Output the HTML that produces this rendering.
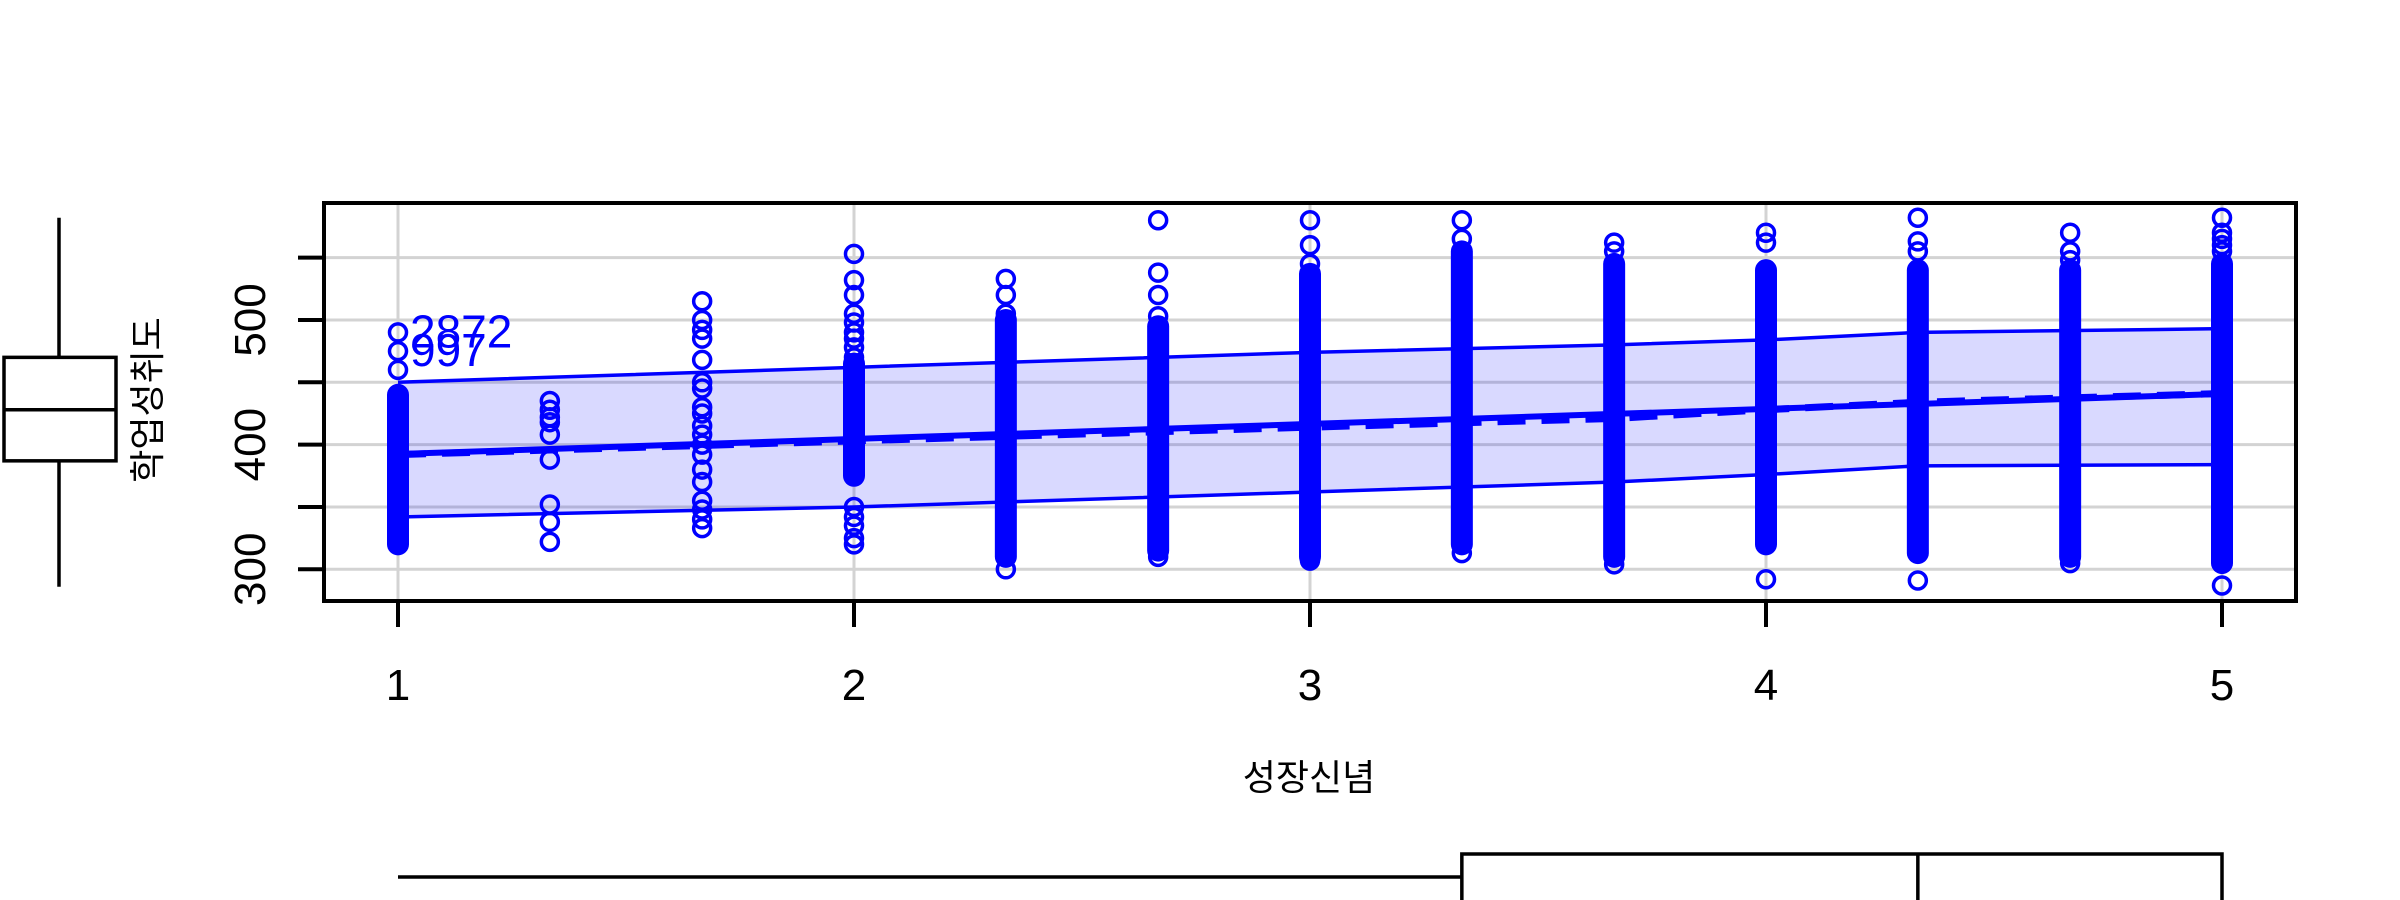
<!DOCTYPE html>
<html><head><meta charset="utf-8"><style>
html,body{margin:0;padding:0;background:#fff;}
svg{display:block;}
text{font-family:"Liberation Sans","Noto Sans CJK KR",sans-serif;}
</style></head><body>
<svg id="chart" width="2400" height="900" viewBox="0 0 2400 900" xmlns="http://www.w3.org/2000/svg"></svg>
<script>
const xTicks=[1,2,3,4,5];
const yTicks=[300,350,400,450,500,550];
const yTickLabels=[300,400,500];
const colX=[1,1.333,1.667,2,2.333,2.667,3,3.333,3.667,4,4.333,4.667,5];
const denseLo=[320,null,null,375,310,315,310,320,310,320,313,310,305];
const denseHi=[440,null,null,465,500,495,537,555,545,540,540,540,545];
const outliers=[
 [490,475,460],
 [435,428,422,418,408,388,352,338,322],
 [515,500,492,485,468,450,445,430,425,415,408,400,392,380,370,355,348,340,333],
 [553,532,520,505,498,490,485,478,470,350,342,335,325,320],
 [533,520,505,300],
 [580,538,520,503,310],
 [580,560,545,307],
 [580,565,313],
 [562,555,304],
 [570,562,292],
 [582,563,555,291],
 [570,555,548,305],
 [582,570,565,560,555,287]
];
const bandX=[1,2,3,3.667,4,4.333,5];
const bandUpper=[450,462,474,480,484,490,493];
const bandLower=[342,350,362,370,376,383,384];
const fitX=[1,5];
const fitY=[392.5,440.7];
const smoothX=[1,2,3,3.667,4,4.333,5];
const smoothY=[392,403,414,421,428,434,441];
const labelPts=[{x:1,y:490,t:"2872"},{x:1,y:475,t:"997"}];
const yBox={min:286,q1:387,med:428,q3:470,max:582};
const xBox={min:1,q1:3.333,med:4.333,q3:5,max:5};

const X=v=>398+(v-1)*456;
const Y=v=>569.3-(v-300)*1.2467;
const svg=document.getElementById('chart');
const NS='http://www.w3.org/2000/svg';
function mk(tag,attrs,parent){const e=document.createElementNS(NS,tag);for(const k in attrs)e.setAttribute(k,attrs[k]);(parent||svg).appendChild(e);return e;}

xTicks.forEach(t=>{const e=mk('line',{x1:X(t),x2:X(t),y1:203,y2:601,stroke:'#d3d3d3','stroke-width':3});

});
yTicks.forEach(t=>{const e=mk('line',{x1:324,x2:2296,y1:Y(t),y2:Y(t),stroke:'#d3d3d3','stroke-width':3});

});

let d='M'+bandX.map((x,i)=>X(x)+','+Y(bandUpper[i])).join(' L');
for(let i=bandX.length-1;i>=0;i--)d+=' L'+X(bandX[i])+','+Y(bandLower[i]);
const band=mk('path',{d:d+'Z',fill:'rgba(0,0,255,0.15)',stroke:'none'});


const up=mk('polyline',{points:bandX.map((x,i)=>X(x)+','+Y(bandUpper[i])).join(' '),fill:'none',stroke:'#0000ff','stroke-width':3.5});


const lo=mk('polyline',{points:bandX.map((x,i)=>X(x)+','+Y(bandLower[i])).join(' '),fill:'none',stroke:'#0000ff','stroke-width':3.5});



colX.forEach((cx,i)=>{
 if(denseLo[i]!==null){const r=mk('rect',{x:X(cx)-11,y:Y(denseHi[i])-11,width:22,height:Y(denseLo[i])-Y(denseHi[i])+22,rx:11,fill:'#0000ff'});
 
 }
 outliers[i].forEach(v=>{const c=mk('circle',{cx:X(cx),cy:Y(v),r:8.5,fill:'none',stroke:'#0000ff','stroke-width':3.5});
 
 });
});

const fit=mk('line',{x1:X(fitX[0]),y1:Y(fitY[0]),x2:X(fitX[1]),y2:Y(fitY[1]),stroke:'#0000ff','stroke-width':6});


const sm=mk('polyline',{points:smoothX.map((x,i)=>X(x)+','+Y(smoothY[i])).join(' '),fill:'none',stroke:'#0000ff','stroke-width':7,'stroke-dasharray':'28,16'});



labelPts.forEach(p=>{const t=mk('text',{x:X(p.x)+12,y:Y(p.y)+15,fill:'#0000ff','font-size':46});t.textContent=p.t;

});

const fr=mk('rect',{x:324,y:203,width:1972,height:398,fill:'none',stroke:'#000','stroke-width':4});



xTicks.forEach(t=>{mk('line',{x1:X(t),x2:X(t),y1:601,y2:627,stroke:'#000','stroke-width':4});
 const l=mk('text',{x:X(t),y:700,'font-size':44,'text-anchor':'middle',fill:'#000'});l.textContent=t;
 
 });
yTicks.forEach(t=>{mk('line',{x1:298,x2:324,y1:Y(t),y2:Y(t),stroke:'#000','stroke-width':4});});
yTickLabels.forEach(t=>{const l=mk('text',{x:0,y:0,'font-size':44,'text-anchor':'middle',fill:'#000',transform:`translate(265,${Y(t)}) rotate(-90)`});l.textContent=t;
 
 });

const xl=mk('text',{x:1309,y:790,'font-size':36,'text-anchor':'middle',fill:'#000'});xl.textContent='성장신념';


const yl=mk('text',{x:0,y:0,'font-size':36,'text-anchor':'middle',fill:'#000',transform:'translate(160,400) rotate(-90)'});yl.textContent='학업성취도';



const g1=mk('g',{stroke:'#000','stroke-width':3.5,fill:'none'});


mk('line',{x1:59,x2:59,y1:Y(yBox.max),y2:Y(yBox.q3)},g1);
mk('line',{x1:59,x2:59,y1:Y(yBox.q1),y2:Y(yBox.min)},g1);
mk('rect',{x:4,y:Y(yBox.q3),width:112,height:Y(yBox.q1)-Y(yBox.q3),fill:'#fff'},g1);
mk('line',{x1:4,x2:116,y1:Y(yBox.med),y2:Y(yBox.med)},g1);
const g2=mk('g',{stroke:'#000','stroke-width':3.5,fill:'none'});


mk('line',{x1:X(xBox.min),x2:X(xBox.q1),y1:877,y2:877},g2);
mk('rect',{x:X(xBox.q1),y:854,width:X(xBox.q3)-X(xBox.q1),height:60,fill:'#fff'},g2);
mk('line',{x1:X(xBox.med),x2:X(xBox.med),y1:854,y2:900},g2);
</script>
</body></html>
